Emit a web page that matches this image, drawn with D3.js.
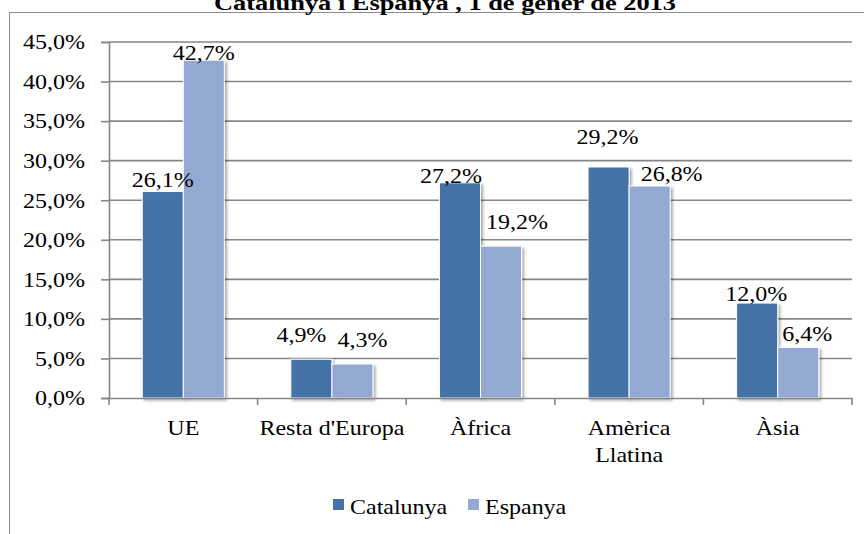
<!DOCTYPE html>
<html>
<head>
<meta charset="utf-8">
<script src="https://cdn.jsdelivr.net/npm/d3@7"></script>
<style>
  body { margin: 0; background: #fff; }
</style>
</head>
<body>
<div id="chart"></div>
<script>
// Data
const regions = ["UE", "Resta d'Europa", "Àfrica", "Amèrica Llatina", "Àsia"];
const series = ["Catalunya", "Espanya"];
const catalunya = [26.1, 4.9, 27.2, 29.2, 12.0];
const espanya = [42.7, 4.3, 19.2, 26.8, 6.4];
const yTicks = [0, 5, 10, 15, 20, 25, 30, 35, 40, 45];
const title = "Catalunya i Espanya , 1 de gener de 2013";

// hand-moved data labels in the original: [dx, gap above bar]
const labelNudge = {
  Catalunya: [[0, 5], [-10, 17], [-9, 0], [-1, 23], [-1, 2]],
  Espanya: [[0, 0], [10, 17], [16, 17], [22, 5], [9, 6]]
};

const colors = { Catalunya: "#4572a7", Espanya: "#93a9d1" };
const gridColor = "#868686";
const serif = "'Liberation Serif', 'Times New Roman', Times, serif";
const stretch = 1.2; // the original picture is stretched horizontally
const fontSize = 20;

const W = 864, H = 534;
const margin = { top: 42, right: 12, bottom: 136, left: 109 };
const width = 852 - margin.left;
const height = 398 - margin.top;

const rows = regions.map((r, i) => ({ region: r, i: i, Catalunya: catalunya[i], Espanya: espanya[i] }));

const svg = d3.select("#chart").append("svg")
    .attr("width", W)
    .attr("height", H);

// drop shadow like the office chart bars
const defs = svg.append("defs");
defs.append("filter")
    .attr("id", "shadow")
    .attr("x", "-20%").attr("y", "-20%")
    .attr("width", "150%").attr("height", "150%")
  .append("feDropShadow")
    .attr("dx", 2).attr("dy", 2)
    .attr("stdDeviation", 1.8)
    .attr("flood-color", "#000")
    .attr("flood-opacity", 0.35);

// chart frame (only the top and left edges are inside the picture)
svg.append("rect")
    .attr("x", 9.5).attr("y", 12.5)
    .attr("width", 900).attr("height", 600)
    .attr("fill", "#fff")
    .attr("stroke", "#8c8c8c")
    .attr("stroke-width", 1);

// turn a text into a horizontally stretched serif one at the same anchor
function stretchText(sel, size) {
  sel.each(function() {
    const t = d3.select(this);
    const x = +t.attr("x") || 0, y = +t.attr("y") || 0;
    t.attr("x", 0).attr("y", 0)
     .attr("font-family", null)
     .style("font-family", serif)
     .style("font-size", (size || fontSize) + "px")
     .attr("fill", "#000")
     .attr("transform", "translate(" + x + "," + y + ") scale(" + stretch + ",1)");
  });
}

svg.append("text")
    .attr("x", 445)
    .attr("y", 10)
    .attr("text-anchor", "middle")
    .style("font-weight", "bold")
    .text(title)
    .call(stretchText, 22);

const g = svg.append("g")
    .attr("transform", "translate(" + margin.left + "," + margin.top + ")");

// scales
const x0 = d3.scaleBand()
    .domain(regions)
    .range([0, width])
    .paddingInner(0)
    .paddingOuter(0);

const x1 = d3.scaleBand()
    .domain(series)
    .range([0, x0.bandwidth()])
    .paddingInner(0)
    .paddingOuter(0.81);

const y = d3.scaleLinear()
    .domain([0, 45])
    .range([height, 0]);

const fmt = d => d.toFixed(1).replace(".", ",") + "%";

// gridlines
g.append("g")
    .selectAll("line")
    .data(yTicks.filter(d => d > 0))
  .enter().append("line")
    .attr("x1", 0)
    .attr("x2", width)
    .attr("y1", d => y(d))
    .attr("y2", d => y(d))
    .attr("stroke", gridColor)
    .attr("stroke-width", 1.6);

// y axis
const yAxis = g.append("g")
    .call(d3.axisLeft(y).tickValues(yTicks).tickSize(8).tickPadding(16).tickFormat(fmt));
yAxis.attr("font-family", null).attr("font-size", null);
yAxis.select(".domain").attr("stroke", gridColor).attr("stroke-width", 1.6);
yAxis.selectAll(".tick line").attr("stroke", gridColor).attr("stroke-width", 1.6);
yAxis.selectAll(".tick text")
    .attr("dy", "0.34em")
    .call(stretchText);

// bars
const groups = g.append("g")
    .selectAll("g")
    .data(rows)
  .enter().append("g")
    .attr("transform", d => "translate(" + x0(d.region) + ",0)");

groups.selectAll("rect")
    .data(d => series.map(s => ({ key: s, value: d[s], i: d.i })))
  .enter().append("rect")
    .attr("x", d => x1(d.key))
    .attr("width", x1.bandwidth())
    .attr("y", d => y(d.value))
    .attr("height", d => height - y(d.value))
    .attr("fill", d => colors[d.key])
    .attr("stroke", "#fff")
    .attr("stroke-width", 1)
    .attr("filter", "url(#shadow)");

// data labels
groups.selectAll("text.label")
    .data(d => series.map(s => ({ key: s, value: d[s], i: d.i })))
  .enter().append("text")
    .attr("class", "label")
    .attr("text-anchor", "middle")
    .attr("x", d => x1(d.key) + x1.bandwidth() / 2 + labelNudge[d.key][d.i][0])
    .attr("y", d => y(d.value) - labelNudge[d.key][d.i][1])
    .text(d => fmt(d.value))
    .call(stretchText);

// x axis
const xAxis = g.append("g")
    .attr("transform", "translate(0," + height + ")")
    .call(d3.axisBottom(x0).tickSize(0).tickFormat(""));
xAxis.attr("font-family", null).attr("font-size", null);
xAxis.select(".domain").attr("stroke", gridColor).attr("stroke-width", 1.6);

// tick marks between categories
xAxis.selectAll("line.sep")
    .data(regions.map(r => x0(r)).concat([width]))
  .enter().append("line")
    .attr("class", "sep")
    .attr("x1", d => d).attr("x2", d => d)
    .attr("y1", 0).attr("y2", 7)
    .attr("stroke", gridColor)
    .attr("stroke-width", 1.6);

// category labels (wrap "Amèrica Llatina")
xAxis.selectAll(".tick").each(function(d) {
  const lines = (d === "Amèrica Llatina") ? d.split(" ") : [d];
  const tick = d3.select(this);
  tick.select("text").remove();
  lines.forEach((ln, k) => {
    tick.append("text")
        .attr("text-anchor", "middle")
        .attr("x", 0)
        .attr("y", 37 + k * 27)
        .text(ln)
        .call(stretchText);
  });
});

// legend
const legend = svg.append("g")
    .attr("transform", "translate(333,499)");

const item = legend.selectAll("g")
    .data(series)
  .enter().append("g")
    .attr("transform", (d, i) => "translate(" + (i * 135) + ",0)");

item.append("rect")
    .attr("width", 11)
    .attr("height", 11)
    .attr("fill", d => colors[d]);

item.append("text")
    .attr("x", 17)
    .attr("y", 15)
    .text(d => d)
    .call(stretchText);
</script>
</body>
</html>
